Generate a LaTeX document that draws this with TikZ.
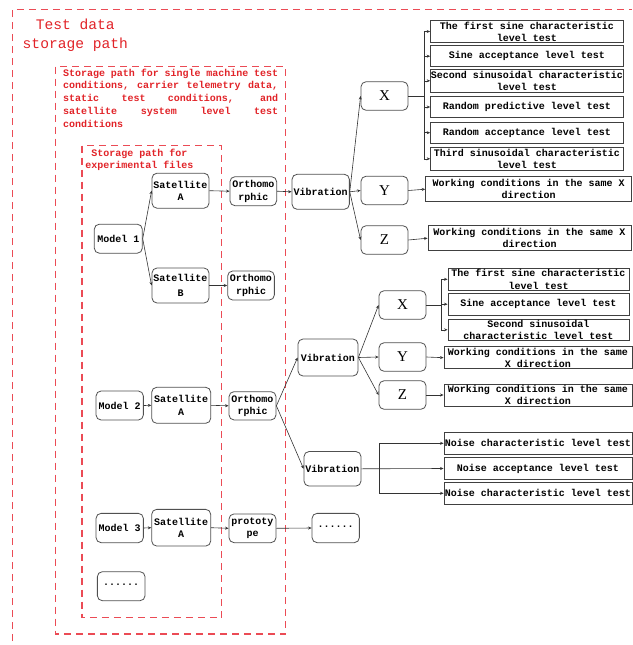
\documentclass[tikz,border=0pt]{standalone}
\usepackage{fontspec}
\usetikzlibrary{arrows.meta,calc}
\newfontfamily\monof{Liberation Mono}
\newfontfamily\seriff{Liberation Serif}
\definecolor{redtxt}{RGB}{225,35,40}
\definecolor{reddash}{RGB}{235,75,85}
\definecolor{boxline}{RGB}{80,80,80}
\tikzset{
  frame/.style={draw=reddash,line width=1.25pt,dash pattern=on 7pt off 5pt},
  rbox/.style={draw=boxline,line width=0.8pt,rounded corners=5pt,fill=white,inner sep=0pt,align=center,
     font={\monof\bfseries\fontsize{10}{12.5}\selectfont}},
  lbox/.style={rbox,font={\seriff\fontsize{15}{15}\selectfont},minimum width=47pt,minimum height=28.5pt},
  tbox/.style={draw=black!75,line width=0.9pt,fill=white,inner sep=0pt,align=center,
     font={\monof\bfseries\fontsize{10}{12.2}\selectfont}},
  conn/.style={draw=black!80,line width=0.6pt},
  arr/.style={conn,-{Stealth[length=3.5pt,width=3pt]}},
}
\begin{document}
\begin{tikzpicture}[x=1pt,y=-1pt]
\useasboundingbox (0,0) rectangle (632,645);
% frames
\draw[frame] (12.3,641) -- (12.3,9.5) -- (632,9.5);
\draw[frame] (55.5,66.7) rectangle (285.7,634);
\draw[frame] (82,145.5) rectangle (221.7,617.7);
% frame titles
\node[text=redtxt,align=center,inner sep=0pt,font={\monof\fontsize{14.6}{18.5}\selectfont}] (title) at (75.3,35) {Test data\\storage path};
\node[text=redtxt,inner sep=0pt,anchor=north west,align=left,font={\monof\bfseries\fontsize{10}{12.8}\selectfont}] (mtitle) at (63,68.5)
 {\makebox[215pt][s]{Storage path for single machine test}\\
  \makebox[215pt][s]{conditions, carrier telemetry data,}\\
  \makebox[215pt][s]{static test conditions, and}\\
  \makebox[215pt][s]{satellite system level test}\\
  conditions};
\node[text=redtxt,inner sep=0pt,align=center,font={\monof\bfseries\fontsize{10}{12.2}\selectfont}] (ititle) at (139.5,160) {Storage path for\\experimental files};
% model 1 branch
\node[rbox,minimum width=48pt,minimum height=29pt] (m1) at (118.3,238.7) {Model 1};
\node[rbox,minimum width=57pt,minimum height=35pt] (sa1) at (180.5,190.7) {Satellite\\A};
\node[rbox,minimum width=57pt,minimum height=35pt] (sb1) at (180.5,285.5) {Satellite\\[3pt]B};
\node[rbox,minimum width=46.7pt,minimum height=29pt] (o1) at (253.3,191.2) {Orthomo\\rphic};
\node[rbox,minimum width=46.7pt,minimum height=29pt] (ob) at (251,285.5) {Orthomo\\rphic};
\node[rbox,minimum width=57.3pt,minimum height=35pt] (v1) at (320.7,191.8) {Vibration};
\node[lbox] (x1) at (384.5,96) {X};
\node[lbox] (y1) at (384.5,190.5) {Y};
\node[lbox] (z1) at (384.5,240) {Z};
\node[tbox,minimum width=192.3pt,minimum height=21.6pt] (t1) at (526.8,31.5) {The first sine characteristic\\level test};
\node[tbox,minimum width=192.3pt,minimum height=21pt] (t2) at (526.8,56.2) {Sine acceptance level test};
\node[tbox,minimum width=192.3pt,minimum height=23pt] (t3) at (526.8,80.8) {Second sinusoidal characteristic\\level test};
\node[tbox,minimum width=192.3pt,minimum height=20.6pt] (t4) at (526.8,107) {Random predictive level test};
\node[tbox,minimum width=192.3pt,minimum height=21.3pt] (t5) at (526.8,132.7) {Random acceptance level test};
\node[tbox,minimum width=192.3pt,minimum height=22.3pt] (t6) at (526.8,158.8) {Third sinusoidal characteristic\\level test};
\node[tbox,minimum width=206pt,minimum height=25pt] (y1b) at (528.7,189.2) {Working conditions in the same X\\direction};
\node[tbox,minimum width=203pt,minimum height=25pt] (z1b) at (529.5,238.2) {Working conditions in the same X\\direction};
% model 2 branch
\node[rbox,minimum width=47.3pt,minimum height=29pt] (m2) at (119.7,405.5) {Model 2};
\node[rbox,minimum width=59pt,minimum height=36pt] (sa2) at (181.2,405.3) {Satellite\\A};
\node[rbox,minimum width=47pt,minimum height=28.3pt] (o2) at (252.5,405.8) {Orthomo\\rphic};
\node[rbox,minimum width=60pt,minimum height=37pt] (v2) at (328,357.5) {Vibration};
\node[lbox] (x2) at (402.5,305) {X};
\node[lbox] (y2) at (402.5,357) {Y};
\node[lbox] (z2) at (402.5,395) {Z};
\node[tbox,minimum width=181pt,minimum height=22.7pt] (u1) at (538.5,279.3) {The first sine characteristic\\level test};
\node[tbox,minimum width=181pt,minimum height=21.7pt] (u2) at (538.5,304.2) {Sine acceptance level test};
\node[tbox,minimum width=181pt,minimum height=21.7pt] (u3) at (538.5,329.8) {Second sinusoidal\\characteristic level test};
\node[tbox,minimum width=188pt,minimum height=22pt] (y2b) at (538,357.7) {Working conditions in the same\\X direction};
\node[tbox,minimum width=188pt,minimum height=22pt] (z2b) at (538,395) {Working conditions in the same\\X direction};
\node[rbox,minimum width=57pt,minimum height=34.5pt] (v3) at (332.5,468.8) {Vibration};
\node[tbox,minimum width=188pt,minimum height=21.3pt] (n1) at (538,443.3) {Noise characteristic level test};
\node[tbox,minimum width=188pt,minimum height=21.3pt] (n2) at (538,468.5) {Noise acceptance level test};
\node[tbox,minimum width=188pt,minimum height=21.3pt] (n3) at (538,493.3) {Noise characteristic level test};
% model 3 branch
\node[rbox,minimum width=47.3pt,minimum height=29.3pt] (m3) at (119.7,528) {Model 3};
\node[rbox,minimum width=59pt,minimum height=36.7pt] (sa3) at (181.2,527.7) {Satellite\\A};
\node[rbox,minimum width=47pt,minimum height=28.7pt] (p3) at (252.5,528.3) {prototy\\pe};
\node[rbox,minimum width=47.3pt,minimum height=29.3pt] (d3) at (335.7,528) {······};
\node[rbox,minimum width=47.7pt,minimum height=29pt] (d4) at (121.2,586.2) {······};
% connectors model 1
\draw[arr] (m1.east) -- (sa1.west);
\draw[arr] (m1.east) -- (sb1.west);
\draw[arr] (sa1.east) -- (o1.west);
\draw[arr] (o1.east) -- (v1.west);
\draw[arr] (sb1.east) -- (ob.west);
\draw[arr] (v1.east) -- (x1.west);
\draw[arr] (v1.east) -- (y1.west);
\draw[arr] (v1.east) -- (z1.west);
\draw[conn] (x1.east) -- ++(15.5,0) coordinate (bx1);
\draw[conn] (bx1 |- t1.west) -- (bx1 |- t6.west);
\foreach \t in {t1,t2,t3,t4,t5,t6} \draw[arr] (bx1 |- \t.west) -- (\t.west);
\draw[arr] (y1.east) -- (y1b.west);
\draw[arr] (z1.east) -- (z1b.west);
% connectors model 2
\draw[arr] (m2.east) -- (sa2.west);
\draw[arr] (sa2.east) -- (o2.west);
\draw[arr] (o2.east) -- (v2.west);
\draw[arr] (o2.east) -- (v3.west);
\draw[arr] (v2.east) -- (x2.west);
\draw[arr] (v2.east) -- (y2.west);
\draw[arr] (v2.east) -- (z2.west);
\draw[conn] (x2.east) -- ++(15,0) coordinate (bx2);
\draw[conn] (bx2 |- u1.west) -- (bx2 |- u3.west);
\foreach \t in {u1,u2,u3} \draw[arr] (bx2 |- \t.west) -- (\t.west);
\draw[arr] (y2.east) -- (y2b.west);
\draw[arr] (z2.east) -- (z2b.west);
\draw[arr] (v3.east) -- (n2.west);
\coordinate (bv3) at (379,468.8);
\draw[conn] (bv3 |- n1.west) -- (bv3 |- n3.west);
\draw[arr] (bv3 |- n1.west) -- (n1.west);
\draw[arr] (bv3 |- n3.west) -- (n3.west);
% connectors model 3
\draw[arr] (m3.east) -- (sa3.west);
\draw[arr] (sa3.east) -- (p3.west);
\draw[arr] (p3.east) -- (d3.west);
\end{tikzpicture}
\end{document}
